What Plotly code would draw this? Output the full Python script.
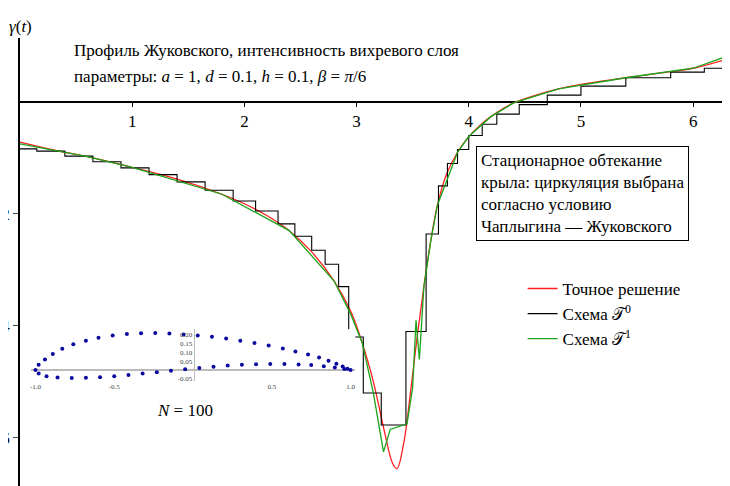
import plotly.graph_objects as go

# exact solution
t_exact = [0.0, 0.3, 0.6, 1.0, 1.4, 1.8, 2.0, 2.2, 2.4, 2.6, 2.8, 2.95, 3.05, 3.15, 3.25, 3.32, 3.36, 3.42,
           3.48, 3.54, 3.6, 3.66, 3.72, 3.8, 3.9, 4.0, 4.1, 4.2, 4.3, 4.4, 4.6, 4.8, 5.0, 5.4, 5.8, 6.0, 6.28]
g_exact = [-0.72, -0.86, -0.98, -1.17, -1.38, -1.65, -1.82, -2.03, -2.3, -2.68, -3.2, -3.75, -4.3, -5.0, -5.9, -6.45, -6.55, -6.1,
           -5.2, -4.2, -3.3, -2.5, -1.85, -1.3, -0.9, -0.62, -0.42, -0.26, -0.13, -0.02, 0.12, 0.23, 0.31, 0.43, 0.54, 0.6, 0.75]

# scheme T1 (piecewise linear, deviates near the minimum)
t_t1 = [0.0, 0.6, 1.0, 1.8, 2.4, 2.8, 2.95, 3.05, 3.15, 3.2, 3.24, 3.3, 3.45, 3.5, 3.53, 3.56, 3.6, 3.66, 3.72, 3.9, 4.0,
        4.2, 4.4, 4.8, 5.4, 6.0, 6.28]
g_t1 = [-0.75, -0.98, -1.17, -1.65, -2.3, -3.2, -3.8, -4.3, -5.2, -5.8, -6.25, -5.85, -5.75, -5.1, -3.9, -4.6, -3.3, -2.5, -1.85,
        -0.9, -0.62, -0.26, -0.02, 0.23, 0.43, 0.6, 0.8]

# scheme T0 (piecewise constant)
t_t0 = [0.0, 0.15, 0.4, 0.65, 0.9, 1.15, 1.4, 1.65, 1.9, 2.1, 2.3, 2.45, 2.6, 2.72, 2.84, 2.93, 3.06, 3.22, 3.44, 3.62,
        3.73, 3.81, 3.9, 4.0, 4.12, 4.25, 4.45, 4.7, 5.0, 5.4, 5.8, 6.1, 6.28]
g_t0 = [-0.84, -0.88, -0.97, -1.07, -1.18, -1.3, -1.43, -1.58, -1.77, -1.95, -2.18, -2.4, -2.65, -2.9, -3.3, -4.2, -5.2, -5.77,
        -4.1, -2.36, -1.5, -1.1, -0.85, -0.6, -0.4, -0.22, -0.05, 0.12, 0.28, 0.43, 0.53, 0.6, 0.6]

# airfoil profile points (inset)
wing_x = [-1.0, -0.98, -0.94, -0.89, -0.83, -0.76, -0.68, -0.6, -0.51, -0.42, -0.33, -0.24, -0.15, -0.06, 0.03, 0.12, 0.21,
          0.3, 0.39, 0.48, 0.57, 0.65, 0.73, 0.8, 0.86, 0.91, 0.95, 0.98, 1.0,
          0.96, 0.9, 0.83, 0.75, 0.67, 0.58, 0.49, 0.4, 0.31, 0.22, 0.13, 0.04, -0.05, -0.14, -0.23, -0.32, -0.41,
          -0.5, -0.59, -0.68, -0.77, -0.86, -0.93, -0.98]
wing_y = [0.0, 0.03, 0.06, 0.09, 0.12, 0.145, 0.165, 0.182, 0.195, 0.203, 0.207, 0.208, 0.206, 0.2, 0.195, 0.187, 0.177,
          0.165, 0.152, 0.138, 0.122, 0.105, 0.088, 0.07, 0.053, 0.035, 0.02, 0.008, 0.0,
          0.006, 0.015, 0.022, 0.028, 0.032, 0.034, 0.034, 0.033, 0.03, 0.025, 0.019, 0.012, 0.004, -0.004, -0.012, -0.02, -0.028,
          -0.035, -0.04, -0.043, -0.044, -0.042, -0.035, -0.02]

x_ticks = [1, 2, 3, 4, 5, 6]
y_ticks = [-6, -4, -2]

FONT = "Liberation Serif, Times New Roman, serif"
YMIN, YMAX = -6.86, 1.14

fig = go.Figure()
fig.add_trace(go.Scatter(x=t_exact, y=g_exact, mode="lines", line=dict(color="#ff1f1f", width=1.3, shape="spline"),
                         name="Точное решение"))
fig.add_trace(go.Scatter(x=t_t0, y=g_t0, mode="lines", line=dict(color="black", width=1.1, shape="hv"),
                         name="Схема 𝒯<sup>0</sup>"))
fig.add_trace(go.Scatter(x=t_t1, y=g_t1, mode="lines", line=dict(color="#1aa51a", width=1.3),
                         name="Схема 𝒯<sup>1</sup>"))
fig.add_trace(go.Scatter(x=wing_x, y=wing_y, mode="markers", marker=dict(color="#0a0aa0", size=4),
                         xaxis="x2", yaxis="y2", showlegend=False))

fig.update_layout(
    width=730, height=486, paper_bgcolor="white", plot_bgcolor="white",
    margin=dict(l=12, r=0, t=30, b=8, autoexpand=False),
    font=dict(family=FONT, size=17, color="black"),
    xaxis=dict(range=[0, 6.4], tickvals=x_ticks, ticks="outside", ticklen=4, tickcolor="black",
               showgrid=False, zeroline=False, showline=False, anchor="free", position=-YMIN / (YMAX - YMIN),
               tickfont=dict(size=17), automargin=False),
    yaxis=dict(range=[YMIN, YMAX], tickvals=y_ticks, ticktext=["−6", "−4", "−2"], ticks="outside", ticklen=5,
               showgrid=False, zeroline=True, zerolinecolor="black", zerolinewidth=1.5, automargin=False,
               showline=True, linecolor="black", linewidth=1.5),
    xaxis2=dict(domain=[0.015, 0.467], range=[-1.03, 1.03], anchor="y2", showgrid=False, zeroline=False,
                showline=False, tickvals=[-1, -0.5, 0.5, 1.0], ticktext=["-1.0", "-0.5", "0.5", "1.0"],
                tickfont=dict(size=7, color="#444"), ticks="", automargin=False),
    yaxis2=dict(domain=[0.235, 0.35], range=[-0.06, 0.23], anchor="free", position=0.242,
                showgrid=False, zeroline=True, zerolinecolor="#bbb", zerolinewidth=2, showline=True,
                linecolor="#bbb", tickvals=[-0.05, 0.05, 0.1, 0.15, 0.2], automargin=False,
                ticktext=["-0.05", "0.05", "0.10", "0.15", "0.20"], tickfont=dict(size=7, color="#444")),
    legend=dict(x=0.70, y=0.48, xanchor="left", yanchor="top", bgcolor="rgba(0,0,0,0)",
                font=dict(family=FONT, size=17), tracegroupgap=0),
    annotations=[
        dict(xref="paper", yref="paper", x=0.073, y=1.0 - (42 - 30) / 448, xanchor="left", yanchor="middle",
             text="Профиль Жуковского, интенсивность вихревого слоя", showarrow=False),
        dict(xref="paper", yref="paper", x=0.073, y=1.0 - (69 - 30) / 448, xanchor="left", yanchor="middle",
             text="параметры: <i>a</i> = 1, <i>d</i> = 0.1, <i>h</i> = 0.1, <i>β</i> = <i>π</i>/6", showarrow=False),
        dict(xref="paper", yref="paper", x=0.635, y=1.0 - (138 - 30) / 448, xanchor="left", yanchor="top",
             align="left", text="Стационарное обтекание<br>крыла: циркуляция выбрана<br>согласно условию<br>Чаплыгина — Жуковского",
             showarrow=False, bordercolor="black", borderwidth=1, borderpad=4, bgcolor="white"),
        dict(xref="paper", yref="paper", x=0.23, y=1.0 - (402 - 30) / 448, xanchor="center", yanchor="middle",
             text="<i>N</i> = 100", showarrow=False),
        dict(xref="paper", yref="paper", x=0.0, y=1.0, xanchor="right", yanchor="bottom",
             text="<i>γ</i>(<i>t</i>)", showarrow=False, xshift=14),
    ],
)
fig.write_html("out.html")
